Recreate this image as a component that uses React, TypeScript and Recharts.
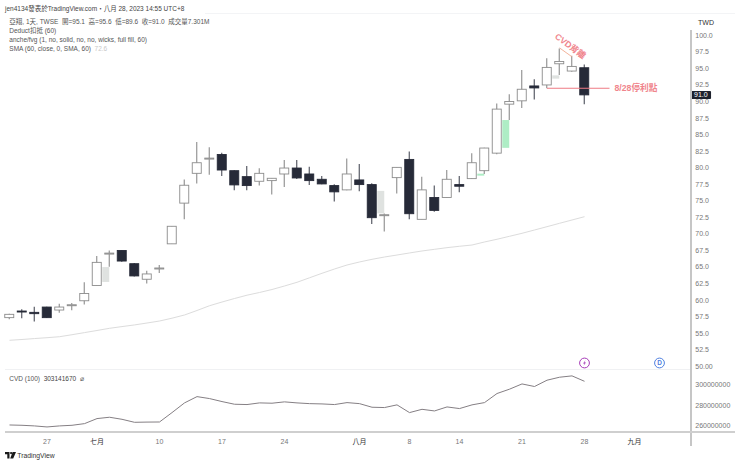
import {
  Bar,
  ComposedChart,
  Line,
  ReferenceDot,
  ReferenceLine,
  XAxis,
  YAxis,
} from 'recharts';

const FONT = '"Liberation Sans", "Noto Sans CJK TC", sans-serif';

// trading days, the last eight are the empty space right of the last candle
const categories = [
  '06-20', '06-21', '06-26', '06-27', '06-28', '06-29', '06-30',
  '07-03', '07-04', '07-05', '07-06', '07-07', '07-10', '07-11', '07-12', '07-13', '07-14',
  '07-17', '07-18', '07-19', '07-20', '07-21', '07-24', '07-25', '07-26', '07-27', '07-28', '07-31',
  '08-01', '08-02', '08-04', '08-07', '08-08', '08-09', '08-10', '08-11',
  '08-14', '08-15', '08-16', '08-17', '08-18', '08-21', '08-22', '08-23', '08-24', '08-25', '08-28',
  '08-29', '08-30', '08-31', '09-01', '09-04', '09-05', '09-06', '09-07',
];

const opens = [57.35, 58.35, 58.15, 58.95, 58.5, 59.25, 59.9, 62.2, 67.0, 67.5, 65.5, 63.15, 64.75, 68.5, 74.65, 79.15, 81.35, 82.0, 79.55, 78.65, 77.95, 78.05, 79.05, 79.95, 79.05, 78.25, 77.3, 76.65, 78.15, 77.45, 72.85, 78.5, 81.25, 72.2, 75.5, 75.5, 77.45, 78.35, 79.55, 82.2, 89.6, 90.1, 92.35, 92.5, 95.7, 94.6, 95.1];
const closes = [57.85, 58.2, 57.95, 57.35, 58.95, 59.3, 61.0, 65.7, 67.1, 65.9, 63.65, 63.95, 64.85, 71.15, 77.35, 80.75, 81.45, 79.65, 77.4, 77.3, 79.15, 78.4, 79.95, 78.45, 78.05, 77.55, 76.35, 79.05, 77.45, 72.45, 72.9, 80.05, 73.05, 76.65, 73.55, 78.25, 77.2, 80.75, 82.97, 88.85, 90.0, 91.85, 92.05, 95.15, 96.05, 95.3, 91.0];
const highs = [57.95, 58.6, 59.0, 59.0, 59.45, 59.55, 62.7, 66.65, 67.5, 67.5, 65.6, 64.45, 65.3, 71.15, 78.2, 83.9, 83.1, 82.25, 79.6, 80.25, 79.9, 78.4, 81.15, 81.15, 80.15, 78.75, 77.5, 81.4, 80.55, 77.65, 73.1, 80.05, 82.45, 78.65, 77.3, 79.65, 78.75, 82.2, 83.0, 89.7, 91.1, 94.75, 93.35, 96.55, 98.0, 96.9, 95.6];
const lows = [57.1, 57.25, 56.75, 57.3, 58.1, 58.45, 59.35, 62.2, 65.05, 65.8, 63.55, 62.5, 64.1, 68.5, 72.2, 77.6, 78.95, 78.75, 76.6, 76.6, 77.3, 75.95, 77.1, 78.3, 77.4, 77.5, 74.9, 76.6, 76.45, 71.5, 70.35, 76.1, 72.2, 72.2, 73.35, 75.45, 76.3, 78.3, 79.05, 82.05, 87.2, 89.0, 90.3, 92.0, 94.0, 94.5, 89.6];

const smaValues = [53.93, 54.05, 54.19, 54.32, 54.47, 54.77, 55.09, 55.41, 55.74, 56.0, 56.25, 56.54, 56.84, 57.27, 57.75, 58.43, 59.15, 59.71, 60.24, 60.74, 61.15, 61.6, 62.13, 62.69, 63.37, 64.05, 64.7, 65.3, 65.76, 66.16, 66.51, 66.81, 67.12, 67.42, 67.67, 67.92, 68.13, 68.32, 68.78, 69.19, 69.64, 70.09, 70.59, 71.09, 71.6, 72.1, 72.6];
// in millions
const cvdValues = [260.8, 260.5, 259.9, 258.9, 259.9, 260.5, 262.1, 267.0, 268.3, 266.3, 263.4, 263.6, 263.7, 272.8, 282.2, 288.3, 286.4, 283.5, 280.9, 280.6, 282.2, 281.9, 283.2, 282.2, 281.5, 281.2, 280.6, 282.5, 281.5, 278.0, 277.7, 280.3, 272.8, 276.0, 274.4, 278.3, 276.7, 280.3, 282.5, 291.3, 295.5, 300.6, 298.1, 304.2, 307.1, 308.4, 303.14];

// fair value gaps from the anche/fvg indicator
const gapDates = ['07-04', '08-04', '08-16', '08-18', '08-24'];
const gapLows = [62.74, 73.1, 78.8, 83.0, 93.45];
const gapHighs = [64.99, 76.5, 79.1, 87.2, 93.95];
const gapColors = ['#dfe2e0', '#dfe2e0', '#aeedc5', '#aeedc5', '#dfe2e0'];

const priceTicks = [50, 52.5, 55, 57.5, 60, 62.5, 65, 67.5, 70, 72.5, 75, 77.5, 80, 82.5, 85, 87.5, 90, 92.5, 95, 97.5, 100];
const cvdTicks = [260, 280, 300];
const dateTicks = ['06-27', '07-03', '07-10', '07-17', '07-24', '08-01', '08-08', '08-14', '08-21', '08-28', '09-01'];
const dateLabels = ['27', '七月', '10', '17', '24', '八月', '8', '14', '21', '28', '九月'];

const legendLines = [
  '亞翔, 1天, TWSE  開=95.1  高=95.6  低=89.6  收=91.0  成交量7.301M',
  'Deduct扣抵 (60)',
  'anche/fvg (1, no, solid, no, no, wicks, full fill, 60)',
];

const rows = categories.map((date, i) => {
  const gapIndex = gapDates.indexOf(date);
  return {
    date,
    wick: highs[i] === undefined ? null : [lows[i], highs[i]],
    body: opens[i] === undefined ? null : [Math.min(opens[i], closes[i]), Math.max(opens[i], closes[i])],
    up: closes[i] >= opens[i],
    gap: gapIndex < 0 ? null : [gapLows[gapIndex], gapHighs[gapIndex]],
    gapColor: gapColors[gapIndex],
    sma: smaValues[i] ?? null,
    cvd: cvdValues[i] ?? null,
  };
});

const WickShape = ({ x, y, width, height, payload }: any) => {
  if (!payload.wick) return null;
  const cx = x + width / 2;
  return <line x1={cx} x2={cx} y1={y} y2={y + height} stroke={payload.up ? '#8c8c8c' : '#4a4d58'} strokeWidth={1.1} />;
};

const BodyShape = ({ x, y, width, height, payload }: any) => {
  if (!payload.body) return null;
  const h = Math.max(height, 1);
  const fill = payload.up ? '#ffffff' : '#262a38';
  const stroke = payload.up ? '#8c8c8c' : '#262a38';
  return <rect x={x + 0.5} y={y} width={width - 1} height={h} fill={fill} stroke={stroke} strokeWidth={0.9} />;
};

// the gap box fills the left half of its bar only
const GapShape = ({ x, y, width, height, payload }: any) => {
  if (!payload.gap) return null;
  return <rect x={x - 2} y={y} width={width / 2 + 2} height={height} fill={payload.gapColor} />;
};

const DateTick = ({ x, y, payload }: any) => {
  const i = dateTicks.indexOf(payload.value);
  const isMonth = dateLabels[i].endsWith('月');
  return (
    <text x={x} y={y + 3.5} textAnchor="middle" fontFamily={FONT} fontSize={7} fill={isMonth ? '#333' : '#777'}>
      {dateLabels[i]}
    </text>
  );
};

const Text = ({ x, y, color = '#555', size = 6.5, children }: any) => (
  <div style={{ position: 'absolute', left: x, top: y, color, fontSize: size, lineHeight: '9px', whiteSpace: 'pre', fontFamily: FONT }}>
    {children}
  </div>
);

const Rule = ({ x, y, w, h, color }: any) => (
  <div style={{ position: 'absolute', left: x, top: y, width: w, height: h, background: color }} />
);

export default function App() {
  return (
    <div style={{ position: 'absolute', left: 0, top: 0, width: 740, height: 464, background: '#fff', overflow: 'hidden' }}>
      <Rule x={205} y={13} w={530} h={1} color="#f3f4f6" />
      <Rule x={5} y={369} w={686} h={1} color="#f0f1f3" />

      <div style={{ position: 'absolute', left: 0, top: 0 }}>
        <ComposedChart
          width={740}
          height={370}
          data={rows}
          margin={{ top: 35.3, right: 0, bottom: 3.7, left: 3.25 }}
          barSize={10}
          barGap={-10}
        >
          <XAxis dataKey="date" hide padding={{ left: 0, right: 0 }} />
          <YAxis
            orientation="right"
            width={49.25}
            domain={[50, 100]}
            ticks={priceTicks}
            interval={0}
            axisLine={false}
            tickLine={false}
            tickMargin={4.5}
            tickSize={0}
            tick={{ fontSize: 7, fill: '#777', fontFamily: FONT }}
            tickFormatter={(v: number) => (v === 50 ? '50.00' : v.toFixed(1))}
          />
          <ReferenceLine
            segment={[{ x: '08-23', y: 92 }, { x: '08-30', y: 92 }]}
            stroke="#ee7b84"
            strokeWidth={1}
          />
          <ReferenceLine
            segment={[{ x: '08-24', y: 98.1 }, { x: '08-25', y: 96.75 }]}
            stroke="#f0a080"
            strokeWidth={0.8}
          />
          <Line dataKey="sma" stroke="#dcdcdc" strokeWidth={1} dot={false} isAnimationActive={false} />
          <Bar dataKey="gap" shape={GapShape} isAnimationActive={false} />
          <Bar dataKey="wick" shape={WickShape} isAnimationActive={false} />
          <Bar dataKey="body" shape={BodyShape} isAnimationActive={false} />
          <ReferenceDot
            x="08-30"
            y={92}
            shape={({ cx, cy }: any) => (
              <text x={cx + 5} y={cy + 3} fontFamily={FONT} fontSize={8.7} fontWeight={600} fill="#f0858d">
                8/28停利點
              </text>
            )}
          />
          <ReferenceDot
            x="08-25"
            y={98.3}
            shape={({ cx, cy }: any) => (
              <text
                x={cx - 2}
                y={cy}
                textAnchor="middle"
                dominantBaseline="middle"
                transform={`rotate(37 ${cx - 2} ${cy})`}
                fontFamily={FONT}
                fontSize={8.7}
                fontWeight={600}
                fill="#f0858d"
              >
                CVD背離
              </text>
            )}
          />
          <ReferenceDot
            x="09-07"
            y={91}
            shape={({ cx, cy }: any) => (
              <g>
                <rect x={cx + 6.25} y={cy - 4} width={20.3} height={8} rx={1} fill="#1e222d" />
                <text x={cx + 16.4} y={cy + 2.5} textAnchor="middle" fontFamily={FONT} fontSize={7} fill="#fff">
                  91.0
                </text>
              </g>
            )}
          />
          <ReferenceDot
            x="08-28"
            y={50.5}
            shape={({ cx, cy }: any) => (
              <g>
                <circle cx={cx} cy={cy} r={4.9} fill="#fff" stroke="#a63cb8" strokeWidth={1} />
                <path
                  d={`M${cx + 1} ${cy - 2.8}L${cx - 1.5} ${cy + 0.4}H${cx}L${cx - 1} ${cy + 2.8}L${cx + 1.5} ${cy - 0.4}H${cx}Z`}
                  fill="#a63cb8"
                />
              </g>
            )}
          />
          <ReferenceDot
            x="09-05"
            y={50.5}
            shape={({ cx, cy }: any) => (
              <g>
                <circle cx={cx} cy={cy} r={4.9} fill="#fff" stroke="#4f7fe0" strokeWidth={1} />
                <text x={cx} y={cy + 2.4} textAnchor="middle" fontFamily={FONT} fontSize={6.5} fontWeight={700} fill="#4f7fe0">
                  D
                </text>
              </g>
            )}
          />
        </ComposedChart>
      </div>

      <div style={{ position: 'absolute', left: 0, top: 369.5 }}>
        <ComposedChart
          width={740}
          height={90}
          data={rows}
          margin={{ top: 0, right: 0, bottom: 7.8, left: 3.25 }}
        >
          <XAxis
            dataKey="date"
            scale="band"
            ticks={dateTicks}
            interval={0}
            height={20}
            axisLine={false}
            tickLine={false}
            tick={DateTick}
          />
          <YAxis
            orientation="right"
            width={49.25}
            domain={[253.8, 314.1]}
            ticks={cvdTicks}
            interval={0}
            axisLine={false}
            tickLine={false}
            tickMargin={4.5}
            tickSize={0}
            tick={{ fontSize: 7, fill: '#777', fontFamily: FONT }}
            tickFormatter={(v: number) => `${v}000000`}
          />
          <Line dataKey="cvd" stroke="#857f84" strokeWidth={1} dot={false} isAnimationActive={false} />
        </ComposedChart>
      </div>

      <Rule x={690} y={30} w={1.5} h={416} color="#c6c6c6" />
      <Rule x={5} y={431} w={730} h={1.5} color="#cfcfcf" />

      <Text x={5} y={3.5} color="#444">jen4134發表於TradingView.com・八月 28, 2023 14:55 UTC+8</Text>
      {legendLines.map((line, i) => (
        <Text key={line} x={9.3} y={17.3 + i * 8.8}>{line}</Text>
      ))}
      <Text x={9.3} y={43.7}>SMA (60, close, 0, SMA, 60)  <span style={{ color: '#c8c8c8' }}>72.6</span></Text>
      <Text x={9.3} y={373.8}>CVD (100)  <span style={{ color: '#444' }}>303141670</span>  ⌀</Text>
      <Text x={698} y={17.5} color="#333" size={7}>TWD</Text>

      <svg style={{ position: 'absolute', left: 5, top: 451.5 }} width={11} height={7} viewBox="0 0 11 7">
        <path d="M0 0H4.5V6.5H2.3V2.2H0Z M7.6 0H11L8.2 6.5H5.2Z" fill="#1a1a1a" />
        <circle cx={6.1} cy={1.1} r={1.1} fill="#1a1a1a" />
      </svg>
      <Text x={17.3} y={451} color="#333" size={6.8}>TradingView</Text>
    </div>
  );
}
